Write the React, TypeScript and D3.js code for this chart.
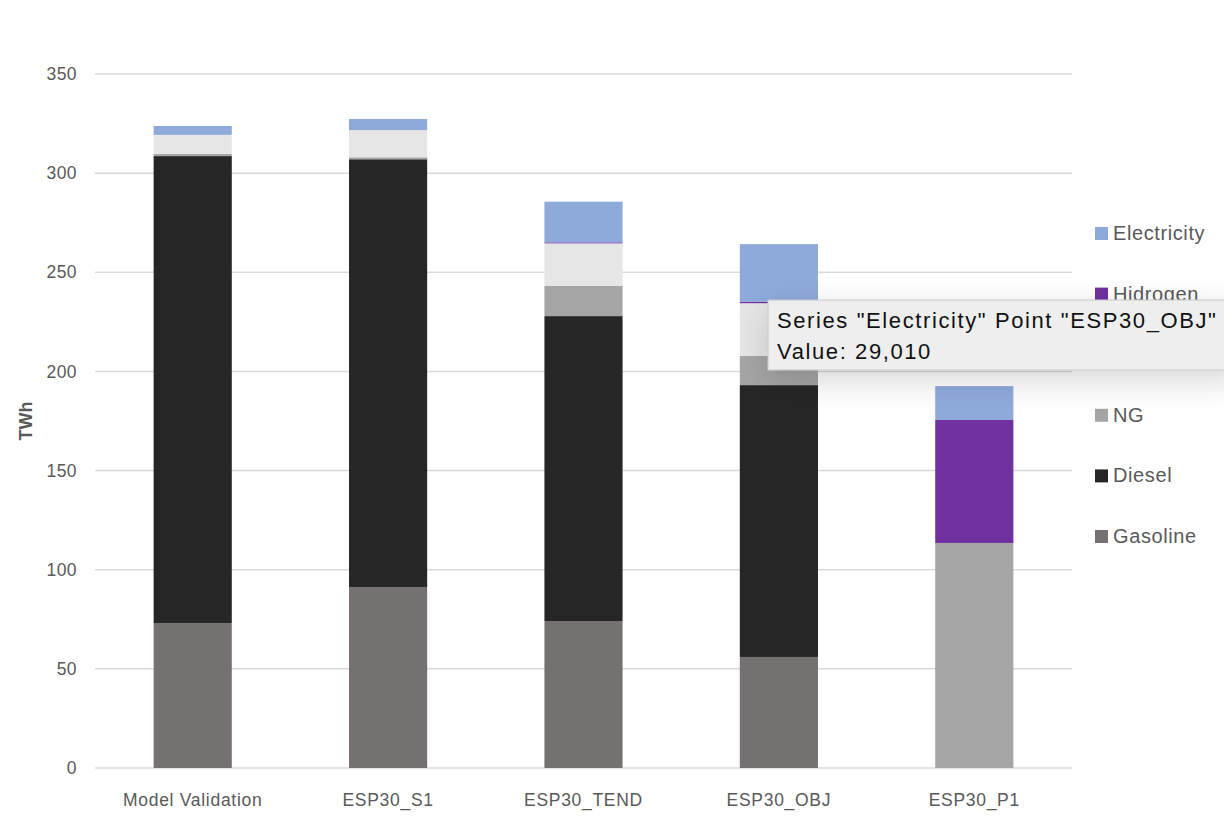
import React, { useRef, useEffect } from 'react';
import * as d3 from 'd3';

const categories = ['Model Validation', 'ESP30_S1', 'ESP30_TEND', 'ESP30_OBJ', 'ESP30_P1'];
const seriesNames = ['Gasoline', 'Diesel', 'NG', 'LPG', 'Hidrogen', 'Electricity'];
const gasoline = [73.1, 91.3, 74.1, 56.0, 0];
const diesel = [235.5, 215.7, 153.8, 137.1, 0];
const ng = [1.2, 1.0, 15.2, 14.7, 113.5];
const lpg = [9.5, 13.7, 21.5, 26.6, 0];
const hidrogen = [0, 0, 0.5, 0.8, 62.0];
const electricity = [4.5, 5.6, 20.5, 29.01, 17.1];
const yTicks = [0, 50, 100, 150, 200, 250, 300, 350];

const colors: Record<string, string> = {
  Gasoline: '#767171',
  Diesel: '#262626',
  NG: '#a5a5a5',
  LPG: '#e7e6e6',
  Hidrogen: '#7030a0',
  Electricity: '#8eaadb',
};

const font = 'Liberation Sans, Arial, sans-serif';

const App: React.FC = () => {
  const ref = useRef<SVGSVGElement | null>(null);

  useEffect(() => {
    if (!ref.current) return;
    const svg = d3.select(ref.current);
    svg.selectAll('*').remove();

    const width = 1224;
    const height = 828;
    const margin = { top: 74, right: 152, bottom: 60, left: 95 };

    const values = [gasoline, diesel, ng, lpg, hidrogen, electricity];
    const rows = categories.map((c, i) => {
      const r: any = { cat: c };
      seriesNames.forEach((s, j) => (r[s] = values[j][i]));
      return r;
    });
    const stacked = d3.stack<any>().keys(seriesNames)(rows);

    const x = d3
      .scaleBand()
      .domain(categories)
      .range([margin.left, width - margin.right])
      .paddingInner(0.6)
      .paddingOuter(0.3);
    const y = d3
      .scaleLinear()
      .domain([0, 350])
      .range([height - margin.bottom, margin.top]);

    svg.append('rect').attr('width', width).attr('height', height).attr('fill', '#fff');

    // Gridlines
    svg
      .append('g')
      .selectAll('line')
      .data(yTicks)
      .join('line')
      .attr('x1', margin.left)
      .attr('x2', width - margin.right)
      .attr('y1', (d) => y(d))
      .attr('y2', (d) => y(d))
      .attr('stroke', '#d9d9d9')
      .attr('stroke-width', 1.5);

    // Tick labels
    svg
      .append('g')
      .selectAll('text')
      .data(yTicks)
      .join('text')
      .attr('x', 77)
      .attr('y', (d) => y(d))
      .attr('dy', '0.35em')
      .attr('text-anchor', 'end')
      .attr('font-family', font)
      .attr('font-size', 17.5)
      .attr('letter-spacing', 0.4)
      .attr('fill', '#595959')
      .text((d) => d);

    svg
      .append('text')
      .attr('transform', `translate(32,${(y(0) + y(350)) / 2}) rotate(-90)`)
      .attr('text-anchor', 'middle')
      .attr('font-family', font)
      .attr('font-size', 18)
      .attr('font-weight', 'bold')
      .attr('fill', '#595959')
      .text('TWh');

    // Bars
    svg
      .append('g')
      .selectAll('g')
      .data(stacked)
      .join('g')
      .attr('fill', (d) => colors[d.key])
      .selectAll('rect')
      .data((d) => d)
      .join('rect')
      .attr('x', (d) => x(d.data.cat)!)
      .attr('width', x.bandwidth())
      .attr('y', (d) => y(d[1]))
      .attr('height', (d) => Math.max(0, y(d[0]) - y(d[1])));

    // Category labels
    svg
      .append('g')
      .selectAll('text')
      .data(categories)
      .join('text')
      .attr('x', (d) => x(d)! + x.bandwidth() / 2)
      .attr('y', 806)
      .attr('text-anchor', 'middle')
      .attr('font-family', font)
      .attr('font-size', 17.5)
      .attr('letter-spacing', 0.7)
      .attr('fill', '#595959')
      .text((d) => d);

    // Legend
    const legendNames = [...seriesNames].reverse();
    const lg = svg
      .append('g')
      .selectAll('g')
      .data(legendNames)
      .join('g')
      .attr('transform', (_, i) => `translate(1095,${233 + i * 60.6})`);
    lg.append('rect')
      .attr('y', -6)
      .attr('width', 13)
      .attr('height', 13)
      .attr('fill', (d) => colors[d]);
    lg.append('text')
      .attr('x', 18)
      .attr('dy', '0.35em')
      .attr('font-family', font)
      .attr('font-size', 20)
      .attr('letter-spacing', 0.6)
      .attr('fill', '#595959')
      .text((d) => d);

    // Tooltip
    const defs = svg.append('defs');
    const f = defs
      .append('filter')
      .attr('id', 'shadow')
      .attr('x', '-20%')
      .attr('y', '-60%')
      .attr('width', '140%')
      .attr('height', '260%');
    f.append('feDropShadow')
      .attr('dx', 0)
      .attr('dy', 10)
      .attr('stdDeviation', 16)
      .attr('flood-color', '#000')
      .attr('flood-opacity', 0.16);

    const tip = svg.append('g');
    tip
      .append('rect')
      .attr('x', 768)
      .attr('y', 300)
      .attr('width', 470)
      .attr('height', 70)
      .attr('fill', '#eeeeee')
      .attr('stroke', '#c8c8c8')
      .attr('filter', 'url(#shadow)');
    tip
      .append('text')
      .attr('x', 777)
      .attr('y', 328)
      .attr('font-family', font)
      .attr('font-size', 22)
      .attr('letter-spacing', 1.6)
      .attr('fill', '#111')
      .text('Series "Electricity" Point "ESP30_OBJ"');
    tip
      .append('text')
      .attr('x', 777)
      .attr('y', 359)
      .attr('font-family', font)
      .attr('font-size', 22)
      .attr('letter-spacing', 1.6)
      .attr('fill', '#111')
      .text('Value: 29,010');
  }, []);

  return (
    <svg
      ref={ref}
      width={1224}
      height={828}
      style={{ position: 'absolute', left: 0, top: 0 }}
    />
  );
};

export default App;
